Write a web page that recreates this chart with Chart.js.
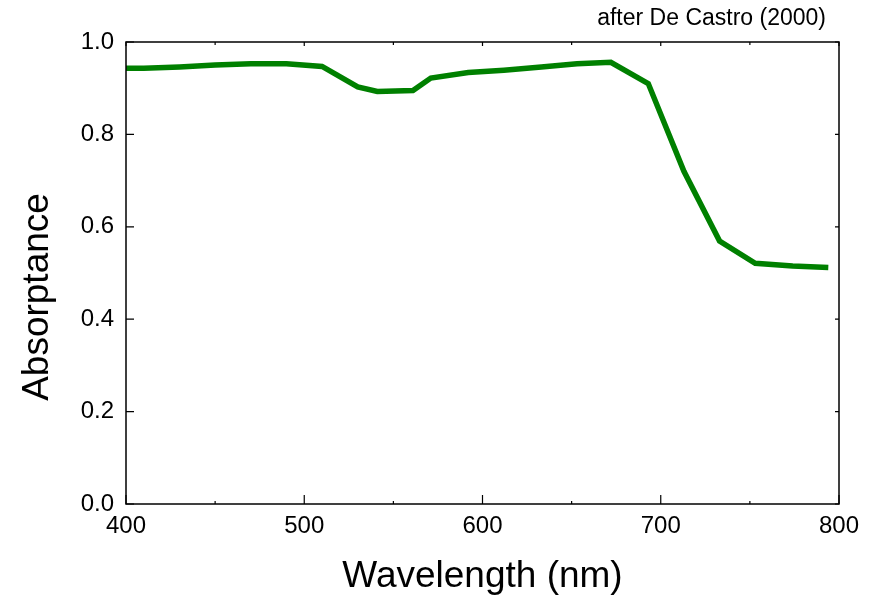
<!DOCTYPE html>
<html lang="en">
<head>
<meta charset="UTF-8">
<title>Absorptance</title>
<script src="https://cdn.jsdelivr.net/npm/chart.js@4"></script>
<style>
  body { margin: 0; padding: 0; background: #fff; }
  #wrap { width: 880px; height: 602px; }
</style>
</head>
<body>
<div id="wrap"><canvas id="chart" width="880" height="602"></canvas></div>
<script>
// values
const wavelengths = [400, 410, 430, 450, 470, 490, 510, 530, 541, 561, 571, 592, 612, 633, 653, 672, 693, 713, 733, 753, 774, 794];
const absorptance = [0.943, 0.943, 0.946, 0.950, 0.953, 0.953, 0.947, 0.903, 0.893, 0.895, 0.922, 0.934, 0.939, 0.946, 0.953, 0.956, 0.910, 0.720, 0.569, 0.521, 0.515, 0.512];
const xTicks = [400, 500, 600, 700, 800];
const xMinorTicks = [450, 550, 650, 750];
const yTicks = [0, 0.2, 0.4, 0.6, 0.8, 1.0];

const FONT = '"Liberation Sans", Arial, sans-serif';

// frame, inward ticks and titles
const framePlugin = {
  id: 'frame',
  afterDraw(chart) {
    const ctx = chart.ctx;
    const a = chart.chartArea;
    const xs = chart.scales.x, ys = chart.scales.y;
    ctx.save();
    ctx.strokeStyle = '#000';
    ctx.lineWidth = 1.5;
    ctx.strokeRect(a.left, a.top, a.right - a.left, a.bottom - a.top);
    ctx.lineWidth = 1.2;
    ctx.beginPath();
    xTicks.forEach(v => {
      const px = xs.getPixelForValue(v);
      ctx.moveTo(px, a.bottom); ctx.lineTo(px, a.bottom - 9);
      ctx.moveTo(px, a.top); ctx.lineTo(px, a.top + 4);
    });
    xMinorTicks.forEach(v => {
      const px = xs.getPixelForValue(v);
      ctx.moveTo(px, a.bottom); ctx.lineTo(px, a.bottom - 3);
      ctx.moveTo(px, a.top); ctx.lineTo(px, a.top + 3);
    });
    yTicks.forEach(v => {
      const py = ys.getPixelForValue(v);
      ctx.moveTo(a.left, py); ctx.lineTo(a.left + 8, py);
      ctx.moveTo(a.right, py); ctx.lineTo(a.right - 4, py);
    });
    ctx.stroke();

    ctx.fillStyle = '#000';
    ctx.font = '37px ' + FONT;
    ctx.textAlign = 'center';
    ctx.textBaseline = 'middle';
    ctx.fillText('Wavelength (nm)', (a.left + a.right) / 2, 577);
    ctx.translate(38, 297);
    ctx.rotate(-Math.PI / 2);
    ctx.fillText('Absorptance', 0, 0);
    ctx.restore();

    ctx.save();
    ctx.font = '23px ' + FONT;
    ctx.fillStyle = '#000';
    ctx.textAlign = 'right';
    ctx.textBaseline = 'middle';
    ctx.fillText('after De Castro (2000)', 826, 19);
    ctx.restore();
  }
};

new Chart(document.getElementById('chart'), {
  type: 'line',
  data: {
    datasets: [{
      data: wavelengths.map((w, i) => ({ x: w, y: absorptance[i] })),
      borderColor: '#008000',
      borderWidth: 5.5,
      pointRadius: 0,
      tension: 0,
      fill: false
    }]
  },
  options: {
    responsive: false,
    animation: false,
    layout: { padding: { top: 42, right: 41, left: 0, bottom: 0 } },
    plugins: { legend: { display: false }, tooltip: { enabled: false } },
    scales: {
      x: {
        type: 'linear',
        min: 400, max: 800,
        afterFit(s) { s.height = 98; },
        afterBuildTicks(s) { s.ticks = xTicks.map(v => ({ value: v })); },
        grid: { display: false, drawTicks: false },
        border: { display: false },
        ticks: { color: '#000', font: { family: FONT, size: 24 }, padding: 8, maxRotation: 0 }
      },
      y: {
        min: 0, max: 1,
        afterFit(s) { s.width = 126; },
        afterBuildTicks(s) { s.ticks = yTicks.map(v => ({ value: v })); },
        grid: { display: false, drawTicks: false },
        border: { display: false },
        ticks: { color: '#000', font: { family: FONT, size: 24 }, padding: 12, callback: v => v.toFixed(1) }
      }
    }
  },
  plugins: [framePlugin]
});
</script>
</body>
</html>
